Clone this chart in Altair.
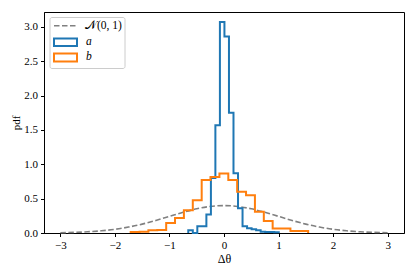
import altair as alt
import pandas as pd

# ---- data ----
a_edges = [-0.655, -0.572, -0.489, -0.406, -0.323, -0.240, -0.158, -0.075, 0.008, 0.091,
           0.174, 0.257, 0.340, 0.423, 0.506, 0.589, 0.672, 0.755, 0.838, 0.921, 1.004]
a_dens = [0.04, 0.0, 0.10, 0.10, 0.27, 0.80, 1.57, 3.07, 2.86, 1.75,
          0.87, 0.36, 0.10, 0.07, 0.055, 0.04, 0.02, 0.015, 0.015, 0.01]

b_edges = [-1.711, -1.548, -1.386, -1.223, -1.060, -0.898, -0.735, -0.572, -0.409, -0.247,
           -0.084, 0.079, 0.241, 0.404, 0.567, 0.730, 0.892, 1.055, 1.218, 1.381, 1.543]
b_dens = [0.015, 0.02, 0.04, 0.045, 0.145, 0.22, 0.33, 0.475, 0.77, 0.815,
          0.865, 0.77, 0.60, 0.55, 0.31, 0.175, 0.065, 0.065, 0.03, 0.03]

norm_x = [-3.0, -2.75, -2.5, -2.25, -2.0, -1.75, -1.5, -1.25, -1.0, -0.75, -0.5, -0.25, 0.0,
          0.25, 0.5, 0.75, 1.0, 1.25, 1.5, 1.75, 2.0, 2.25, 2.5, 2.75, 3.0]
norm_pdf = [0.0044, 0.0091, 0.0175, 0.0317, 0.0540, 0.0863, 0.1295, 0.1826, 0.2420, 0.3011,
            0.3521, 0.3867, 0.3989, 0.3867, 0.3521, 0.3011, 0.2420, 0.1826, 0.1295, 0.0863,
            0.0540, 0.0317, 0.0175, 0.0091, 0.0044]

x_ticks = [-3, -2, -1, 0, 1, 2, 3]
y_ticks = [0.0, 0.5, 1.0, 1.5, 2.0, 2.5, 3.0]
legend_labels = ["\U0001D4A9(0, 1)", "a", "b"]

BLUE = "#1f77b4"
ORANGE = "#ff7f0e"
GRAY = "#808080"
FONT = "Liberation Serif"


def step_frame(edges, dens):
    xs = [edges[0]] + list(edges[:-1]) + [edges[-1]]
    ys = [0.0] + list(dens) + [0.0]
    return pd.DataFrame({"x": xs, "y": ys, "i": list(range(len(xs)))})


xscale = alt.Scale(domain=[-3.3, 3.3], nice=False, zero=False)
yscale = alt.Scale(domain=[0, 3.217], nice=False, zero=False)

xenc = alt.X("x:Q", scale=xscale,
             axis=alt.Axis(values=x_ticks, title="Δθ", format="d"))
yenc = alt.Y("y:Q", scale=yscale,
             axis=alt.Axis(values=y_ticks, title="pdf", format=".1f"))

norm_df = pd.DataFrame({"x": norm_x, "y": norm_pdf})
normal = alt.Chart(norm_df).mark_line(
    color=GRAY, strokeWidth=1.6, strokeDash=[5.5, 2.5], interpolate="monotone"
).encode(x=xenc, y=yenc)

a_line = alt.Chart(step_frame(a_edges, a_dens)).mark_line(
    color=BLUE, strokeWidth=2, interpolate="step-after", strokeJoin="miter"
).encode(x=xenc, y=yenc, order="i:Q")

b_line = alt.Chart(step_frame(b_edges, b_dens)).mark_line(
    color=ORANGE, strokeWidth=2, interpolate="step-after", strokeJoin="miter"
).encode(x=xenc, y=yenc, order="i:Q")

one = pd.DataFrame({"k": [0]})

leg_box = alt.Chart(one).mark_rect(
    fill="white", fillOpacity=0.8, stroke="#cccccc", strokeWidth=1, cornerRadius=2
).encode(x=alt.value(6), x2=alt.value(81), y=alt.value(5.5), y2=alt.value(56.5))

leg_dash = alt.Chart(one).mark_rule(
    color=GRAY, strokeWidth=1.6, strokeDash=[5.5, 2.5]
).encode(x=alt.value(10), x2=alt.value(33), y=alt.value(13.8))

leg_a = alt.Chart(one).mark_rect(
    fill="white", stroke=BLUE, strokeWidth=2
).encode(x=alt.value(10), x2=alt.value(33), y=alt.value(26.5), y2=alt.value(34))

leg_b = alt.Chart(one).mark_rect(
    fill="white", stroke=ORANGE, strokeWidth=2
).encode(x=alt.value(10), x2=alt.value(33), y=alt.value(41.5), y2=alt.value(49.5))

t0 = alt.Chart(one).mark_text(
    align="left", baseline="middle", font=FONT, fontSize=11.5, color="black"
).encode(x=alt.value(41), y=alt.value(14), text=alt.value(legend_labels[0]))

t1 = alt.Chart(one).mark_text(
    align="left", baseline="middle", font=FONT, fontSize=11.5, fontStyle="italic", color="black"
).encode(x=alt.value(42), y=alt.value(29.5), text=alt.value(legend_labels[1]))

t2 = alt.Chart(one).mark_text(
    align="left", baseline="middle", font=FONT, fontSize=11.5, fontStyle="italic", color="black"
).encode(x=alt.value(42), y=alt.value(45), text=alt.value(legend_labels[2]))

chart = alt.layer(
    normal, a_line, b_line, leg_box, leg_dash, leg_a, leg_b, t0, t1, t2
).properties(
    width=360, height=221,
    autosize=alt.AutoSizeParams(type="none"),
    padding={"left": 36, "top": 4, "right": 4, "bottom": 37},
).configure_view(
    stroke="black", strokeWidth=1
).configure_axis(
    domainColor="black", domainWidth=1, tickColor="black", tickWidth=1, tickSize=3.5,
    grid=False, labelFont=FONT, labelFontSize=11, labelColor="black",
    titleFont=FONT, titleFontSize=12, titleFontWeight="normal", titleColor="black",
).configure_axisX(
    labelPadding=3, titlePadding=3
).configure_axisY(
    labelPadding=3, titlePadding=2, titleFontSize=11
)

chart.save("out.html", embed_options={"renderer": "svg", "actions": False})
